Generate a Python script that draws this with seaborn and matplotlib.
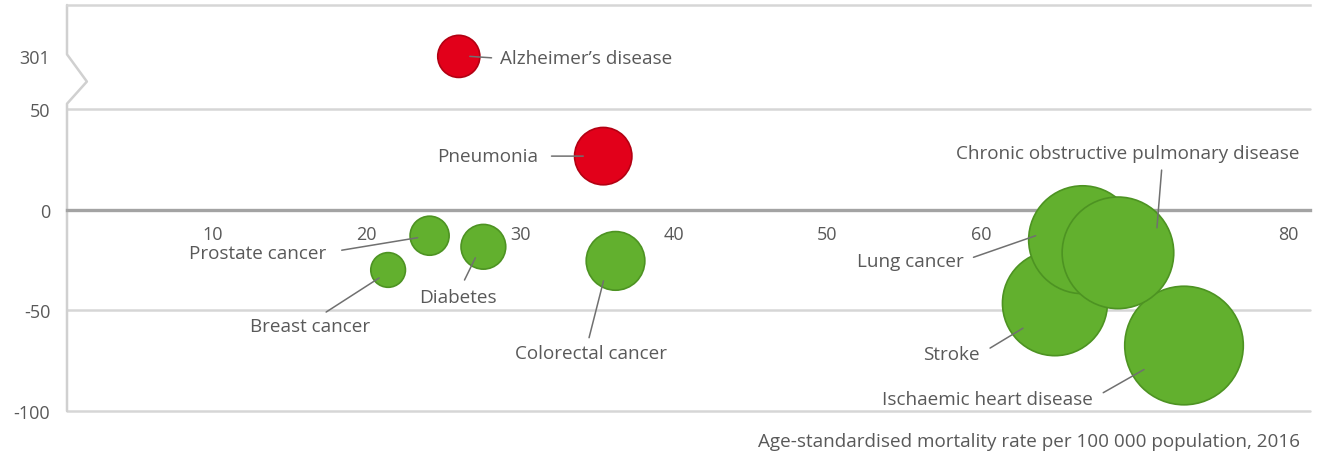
import numpy as np
import pandas as pd
import matplotlib
matplotlib.use("Agg")
import matplotlib.pyplot as plt
import matplotlib.transforms as mtransforms
import seaborn as sns

# -------------------- data --------------------
causes = ["Alzheimer’s disease", "Pneumonia", "Prostate cancer", "Diabetes",
          "Breast cancer", "Colorectal cancer", "Ischaemic heart disease",
          "Stroke", "Lung cancer", "Chronic obstructive pulmonary disease"]
mortality = [26.0, 35.4, 24.1, 27.6, 21.4, 36.2, 73.2, 64.8, 66.6, 68.9]
change = [301, 26.5, -13, -18.5, -30, -25.5, -67.5, -46.5, -15, -21.5]

x_ticks = [10, 20, 30, 40, 50, 60, 70, 80]
y_ticks = [-100, -50, 0, 50, 301]
x_title = "Age-standardised mortality rate per 100 000 population, 2016"

# broken axis: everything above 50 is drawn at this height
BREAK_CUT = 50
BREAK_POS = 76

def to_axis(v):
    return BREAK_POS if v > BREAK_CUT else v

df = pd.DataFrame({"cause": causes, "rate": mortality, "change": change})
df["y"] = df["change"].apply(to_axis)
df["trend"] = np.where(df["change"] > 0, "up", "down")
df["area"] = df["rate"] ** 2   # bubble diameter grows with the rate

RED, RED_EDGE = "#e2001a", "#b30012"
GREEN, GREEN_EDGE = "#62b02e", "#4d9322"
TEXT = "#595959"

# label placement in pixels: line end offset from bubble centre,
# text offset from line end, ha, relpos on text, gap
label_layout = {
    "Alzheimer’s disease": ((11, 0), (30, -2), "left", (0, 0.5), 5),
    "Pneumonia": ((-20, 0), (-45, 0), "right", (1, 0.5), 10),
    "Prostate cancer": ((-12, -2), (-91, -15), "right", (1, 0.5), 12),
    "Breast cancer": ((-9, -8), (-69, -48), "center", (0.57, 1), 3),
    "Diabetes": ((-8, -11), (-17, -39), "center", (0.53, 1), 5),
    "Colorectal cancer": ((-12, -20), (-13, -72), "center", (0.48, 1), 3),
    "Chronic obstructive pulmonary disease": ((39, 25), (-29, 75), "center", (0.6, 0), 5),
    "Lung cancer": ((-47, 4), (-72, -25), "right", (1, 0.5), 7),
    "Stroke": ((-32, -25), (-43, -26), "right", (1, 0.5), 8),
    "Ischaemic heart disease": ((-40, -24), (-51, -29), "right", (1, 0.5), 8),
}

# -------------------- plot --------------------
sns.set_style("white")
plt.rcParams["font.family"] = ["Open Sans", "DejaVu Sans"]

fig = plt.figure(figsize=(13.4, 4.52), dpi=100)
ax = fig.add_axes([67 / 1340, 40 / 452, 1243 / 1340, 406 / 452])

amax = df["area"].max()
sns.scatterplot(data=df, x="rate", y="y", hue="trend", palette={"up": RED, "down": GREEN},
                size="area", sizes=(0, 1.36 * amax), size_norm=(0, amax),
                edgecolor=[RED_EDGE if t == "up" else GREEN_EDGE for t in df["trend"]],
                linewidth=1.2, alpha=1, legend=False, zorder=3, ax=ax)

ax.set_xlim(0.5, 81.4)
ax.set_ylim(-100, 101.5)

# gridlines
for g in [-100, -50, 50]:
    ax.axhline(g, color="#d6d6d6", lw=1.8, zorder=0, clip_on=False)

ax.set_axisbelow(True)
ax.spines["right"].set_visible(False)
ax.spines["left"].set_visible(False)
ax.spines["top"].set_color("#d6d6d6")
ax.spines["top"].set_linewidth(1.8)
ax.spines["bottom"].set_position(("data", 0))
ax.spines["bottom"].set_color("#a3a3a3")
ax.spines["bottom"].set_linewidth(2.4)
ax.spines["bottom"].set_zorder(0.6)

# left spine with a break marker
trans = mtransforms.blended_transform_factory(ax.transAxes, ax.transData)
ax.plot([0, 0, 0.016, 0, 0], [101.5, 77, 63.5, 52.5, -100], color="#d0d0d0",
        lw=1.8, transform=trans, clip_on=False, zorder=0.6)

ax.set_xticks(x_ticks)
ax.set_xticklabels([str(t) for t in x_ticks])
ax.set_yticks([to_axis(t) for t in y_ticks])
ax.set_yticklabels([str(t) for t in y_ticks])
ax.tick_params(axis="x", direction="inout", length=12, width=1.5, color="#a3a3a3",
               pad=5, labelsize=13, labelcolor=TEXT)
ax.tick_params(axis="y", length=0, pad=12, labelsize=13, labelcolor=TEXT)
ax.set_xlabel("")
ax.set_ylabel("")

# labels with leader lines
for _, row in df.iterrows():
    (ex, ey), (tx, ty), ha, rel, gap = label_layout[row["cause"]]
    end = mtransforms.offset_copy(ax.transData, fig=fig, x=ex, y=ey, units="dots")
    ax.annotate(row["cause"], xy=(row["rate"], row["y"]), xycoords=end,
                xytext=(tx, ty), textcoords="offset pixels", ha=ha, va="center",
                fontsize=13.6, color=TEXT, zorder=4,
                arrowprops=dict(arrowstyle="-", color="#707070", lw=1.1,
                                shrinkA=gap * 0.72, shrinkB=0, relpos=rel))

fig.text(1300 / 1340, 1 - 442 / 452, x_title, ha="right", va="center",
         fontsize=13.6, color=TEXT)

fig.savefig("out.png", dpi=100)
